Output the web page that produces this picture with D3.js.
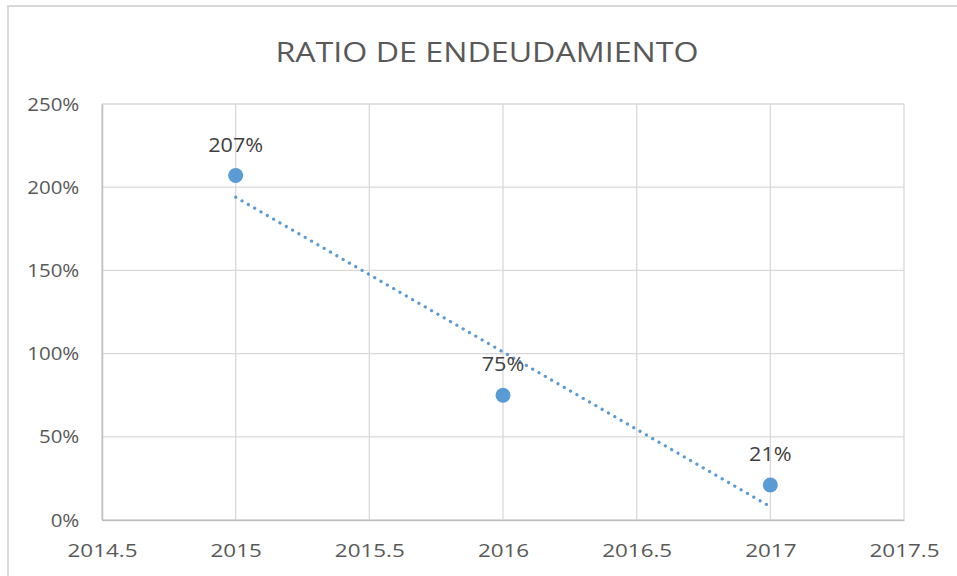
<!DOCTYPE html>
<html>
<head>
<meta charset="utf-8">
<script src="https://cdn.jsdelivr.net/npm/d3@7"></script>
<style>
  body { margin: 0; background: #fff; }
  svg text { font-family: "Open Sans", "Noto Sans", sans-serif; }
</style>
</head>
<body>
<div id="chart"></div>
<script>
// data
var years = [2015, 2016, 2017];
var ratios = [2.07, 0.75, 0.21];
var labels = ["207%", "75%", "21%"];
var xTicks = [2014.5, 2015, 2015.5, 2016, 2016.5, 2017, 2017.5];
var yTicks = [0, 0.5, 1, 1.5, 2, 2.5];

var W = 957, H = 576;
var margin = { left: 102, right: 53, top: 104, bottom: 56 };
var width = W - margin.left - margin.right,
    height = H - margin.top - margin.bottom;

var root = d3.select("#chart").append("svg")
    .attr("width", W)
    .attr("height", H);

// outer chart border (bottom is cut off in the picture)
root.append("rect")
    .attr("x", 8).attr("y", 6)
    .attr("width", W).attr("height", H + 10)
    .style("fill", "none")
    .style("stroke", "#d9d9d9")
    .style("stroke-width", 2);

// the reference text is a bit wider than it is tall, so stretch it a little
root.append("text")
    .attr("transform", "translate(487,62) scale(1.15,1)")
    .attr("text-anchor", "middle")
    .attr("font-size", "28px")
    .style("fill", "#595959")
    .text("RATIO DE ENDEUDAMIENTO");

var svg = root.append("g")
    .attr("transform", "translate(" + margin.left + "," + margin.top + ")");

var xScale = d3.scaleLinear().domain([2014.5, 2017.5]).range([0, width]);
var yScale = d3.scaleLinear().domain([0, 2.5]).range([height, 0]);

// gridlines
svg.selectAll(".hgrid")
    .data(yTicks)
    .enter().append("line")
    .attr("x1", 0).attr("x2", width)
    .attr("y1", function(d){ return yScale(d); })
    .attr("y2", function(d){ return yScale(d); })
    .style("stroke", "#d9d9d9")
    .style("stroke-width", 1.3);

svg.selectAll(".vgrid")
    .data(xTicks)
    .enter().append("line")
    .attr("y1", 0).attr("y2", height)
    .attr("x1", function(d){ return xScale(d); })
    .attr("x2", function(d){ return xScale(d); })
    .style("stroke", "#d9d9d9")
    .style("stroke-width", 1.3);

var xaxis = d3.axisBottom(xScale).tickValues(xTicks).tickSize(0).tickPadding(24)
    .tickFormat(function(d){ return String(d); });
var yaxis = d3.axisLeft(yScale).tickValues(yTicks).tickSize(0).tickPadding(21)
    .tickFormat(d3.format(".0%"));

var gx = svg.append("g")
    .attr("transform", "translate(0," + height + ")")
    .call(xaxis);
var gy = svg.append("g").call(yaxis);

gx.select(".domain").style("stroke", "#bfbfbf").style("stroke-width", 1.5);
gy.select(".domain").style("stroke", "#bfbfbf").style("stroke-width", 1.5);

gx.selectAll("text")
    .attr("font-size", "19px")
    .attr("transform", "scale(1.18,1)")
    .style("fill", "#595959");
gy.selectAll("text")
    .attr("font-size", "19px")
    .attr("transform", "scale(1.08,1)")
    .style("fill", "#595959");

// linear trendline (least squares through the points)
var mx = d3.mean(years), my = d3.mean(ratios);
var slope = d3.sum(years, function(d, i){ return (d - mx) * (ratios[i] - my); }) /
            d3.sum(years, function(d){ return (d - mx) * (d - mx); });
var trend = [years[0], years[years.length - 1]].map(function(x){
    return { x: x, y: my + slope * (x - mx) };
});

var line = d3.line()
    .x(function(d){ return xScale(d.x); })
    .y(function(d){ return yScale(d.y); });

svg.append("path")
    .attr("d", line(trend))
    .style("fill", "none")
    .style("stroke", "#5b9bd5")
    .style("stroke-width", 3.2)
    .style("stroke-linecap", "round")
    .style("stroke-dasharray", "0.1, 7.2");

// points
svg.selectAll(".pt")
    .data(years)
    .enter().append("circle")
    .attr("cx", function(d){ return xScale(d); })
    .attr("cy", function(d, i){ return yScale(ratios[i]); })
    .attr("r", 7.5)
    .style("fill", "#5b9bd5");

svg.selectAll(".lbl")
    .data(years)
    .enter().append("text")
    .attr("transform", function(d, i){
        return "translate(" + xScale(d) + "," + (yScale(ratios[i]) - 24) + ") scale(1.08,1)";
    })
    .attr("text-anchor", "middle")
    .attr("font-size", "20px")
    .style("fill", "#404040")
    .text(function(d, i){ return labels[i]; });
</script>
</body>
</html>
